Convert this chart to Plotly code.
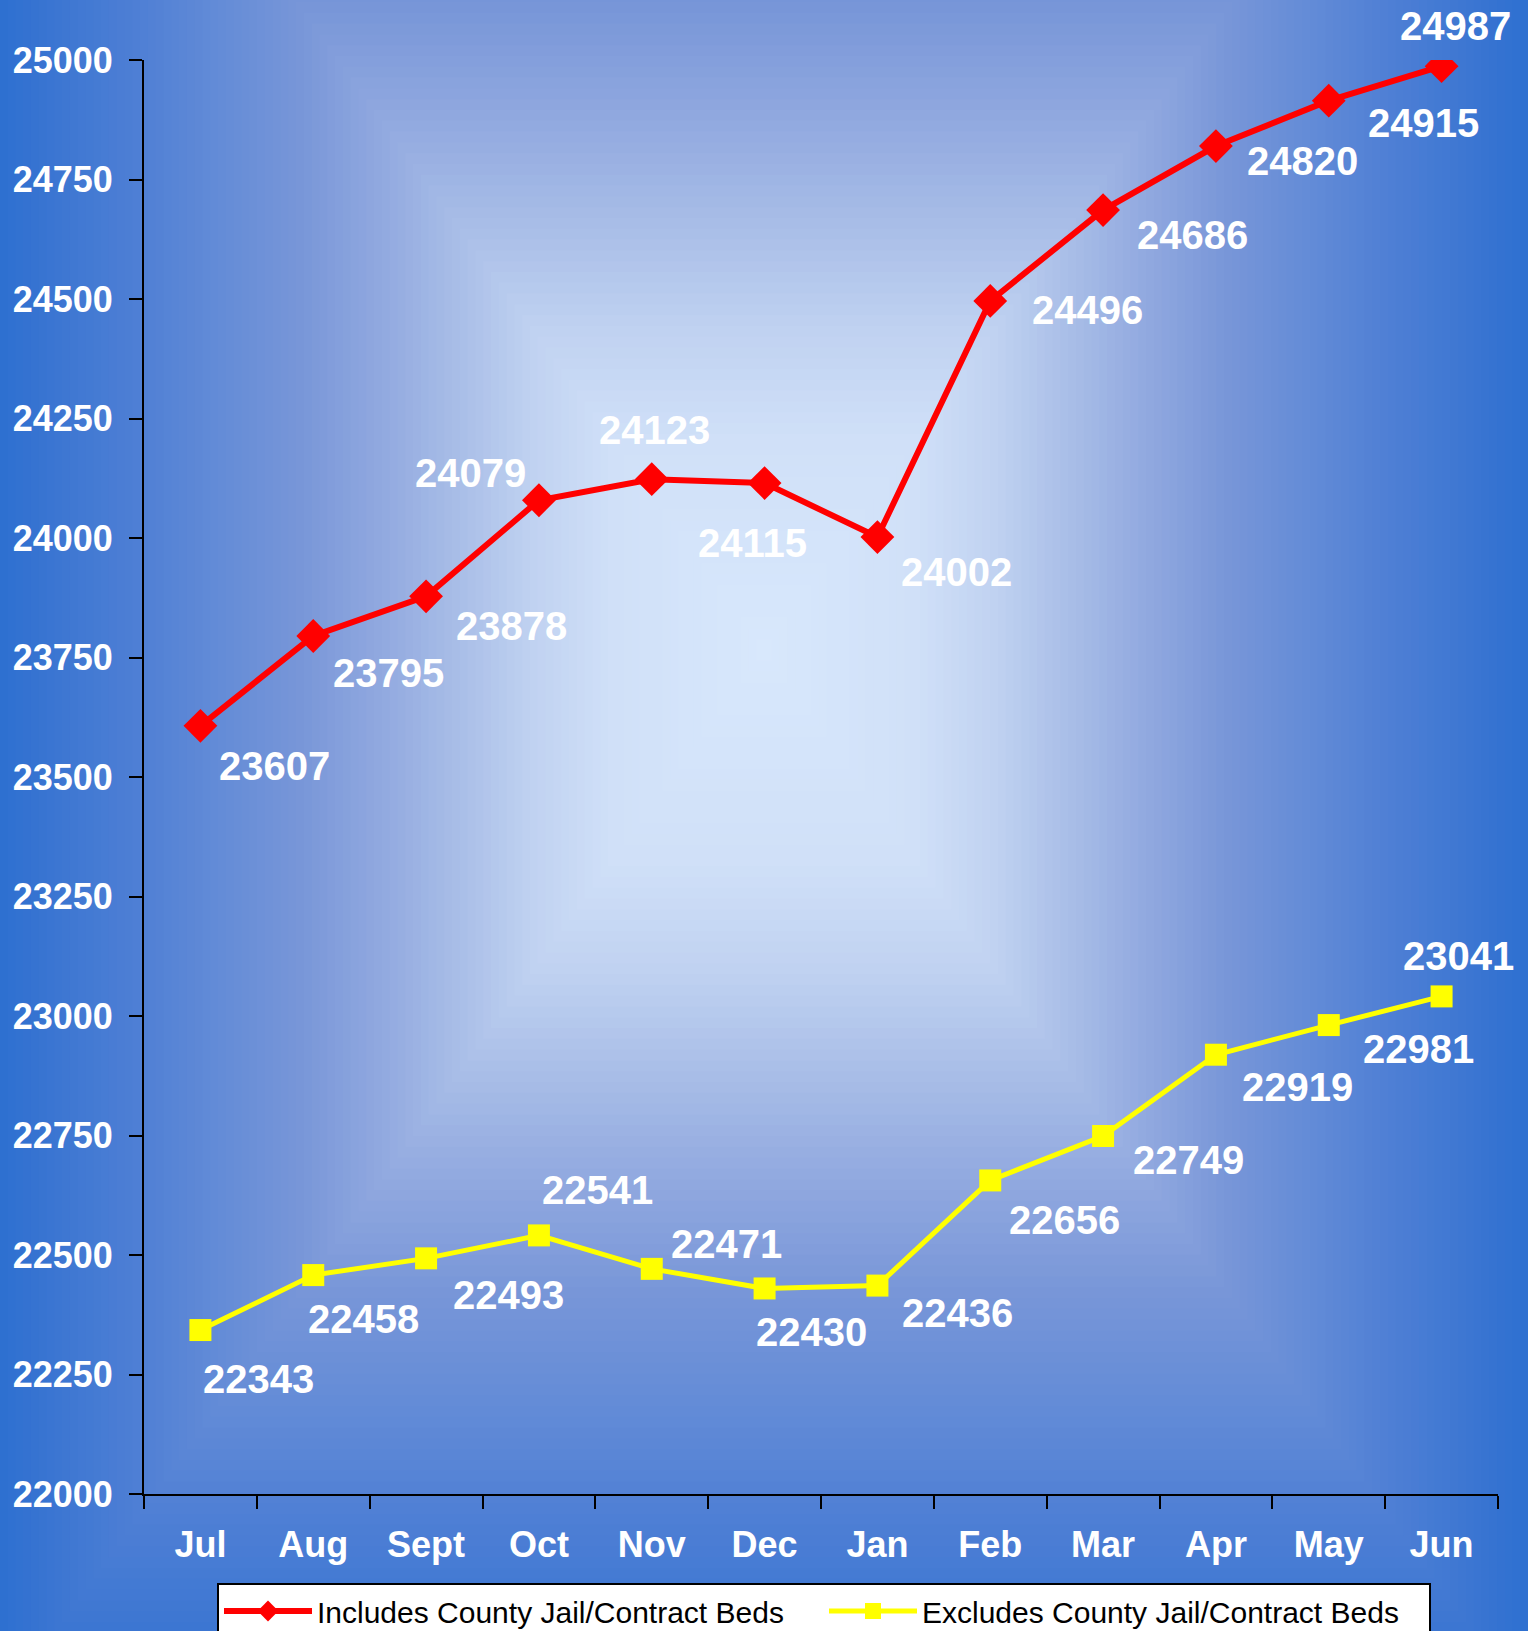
import plotly.graph_objects as go

months = ["Jul", "Aug", "Sept", "Oct", "Nov", "Dec", "Jan", "Feb", "Mar", "Apr", "May", "Jun"]
includes_beds = [23607, 23795, 23878, 24079, 24123, 24115, 24002, 24496, 24686, 24820, 24915, 24987]
excludes_beds = [22343, 22458, 22493, 22541, 22471, 22430, 22436, 22656, 22749, 22919, 22981, 23041]
y_ticks = list(range(22000, 25001, 250))

# label offsets in pixels (dx, dy)
red_offsets = [(74, -40), (75, -37), (85, -30), (-68, 27), (3, 49), (-12, -60),
               (79, -35), (97, -9), (89, -25), (87, -15), (95, -22), (14, 40)]
yel_offsets = [(58, -49), (50, -44), (82, -37), (59, 45), (75, 25), (47, -44),
               (80, -27), (74, -40), (85, -24), (82, -32), (90, -24), (17, 40)]

W, H = 1528, 1631
L, R, T, B = 144, 30, 60, 137
pw, ph = W - L - R, H - T - B

def px2paper(px, py):
    return (px - L) / pw, (H - B - py) / ph

# gradient ramp stops (t, rgb)
stops = [(0.0, (216, 232, 252)), (0.2, (208, 224, 248)), (0.3, (192, 210, 241)),
         (0.4, (168, 189, 231)), (0.5, (144, 168, 223)), (0.6, (120, 150, 216)),
         (0.7, (100, 140, 215)), (0.8, (80, 128, 213)), (0.9, (62, 119, 210)),
         (1.0, (42, 110, 208)), (1.2, (40, 108, 206))]

def ramp(t):
    for (t0, c0), (t1, c1) in zip(stops[:-1], stops[1:]):
        if t <= t1:
            f = (t - t0) / (t1 - t0)
            return "rgb(%d,%d,%d)" % tuple(round(a + (b - a) * f) for a, b in zip(c0, c1))
    return "rgb(%d,%d,%d)" % stops[-1][1]

cx, cy, wx, wy = 764, 650, 780, 1080
shapes = []
n = 110
for i in range(n, -1, -1):
    t = i / 100
    x0, y0 = px2paper(cx - t * wx, cy + t * wy)
    x1, y1 = px2paper(cx + t * wx, cy - t * wy)
    shapes.append(dict(type="rect", xref="paper", yref="paper", x0=x0, x1=x1, y0=y0, y1=y1,
                       fillcolor=ramp(t), line=dict(width=0), layer="below"))

fig = go.Figure()
fig.add_trace(go.Scatter(x=months, y=includes_beds, mode="lines+markers",
                         name="Includes County Jail/Contract Beds",
                         line=dict(color="#ff0000", width=6),
                         marker=dict(symbol="diamond", size=26, color="#ff0000")))
fig.add_trace(go.Scatter(x=months, y=excludes_beds, mode="lines+markers",
                         name="Excludes County Jail/Contract Beds",
                         line=dict(color="#ffff00", width=5),
                         marker=dict(symbol="square", size=22, color="#ffff00")))

annotations = []
for vals, offs in ((includes_beds, red_offsets), (excludes_beds, yel_offsets)):
    for m, v, (dx, dy) in zip(months, vals, offs):
        annotations.append(dict(x=m, y=v, xref="x", yref="y", text=str(v), showarrow=False,
                                xshift=dx, yshift=dy, xanchor="center", yanchor="middle",
                                font=dict(family="Arial", size=40, color="white", weight="bold")))

fig.update_layout(
    width=W, height=H,
    margin=dict(l=L, r=R, t=T, b=B, pad=0, autoexpand=False),
    paper_bgcolor="rgb(42,110,208)",
    plot_bgcolor="rgba(0,0,0,0)",
    shapes=shapes,
    annotations=annotations,
    showlegend=True,
    legend=dict(orientation="h", x=(217 - L) / pw, y=(H - B - 1583) / ph,
                xanchor="left", yanchor="top", bgcolor="white",
                bordercolor="black", borderwidth=2, itemwidth=88,
                font=dict(family="Arial", size=30, color="black"),
                entrywidth=502, entrywidthmode="pixels"),
    xaxis=dict(type="category", range=[-0.5, 11.5], tickson="boundaries", ticks="outside",
               ticklen=13, tickwidth=2, tickcolor="black", showline=True, linecolor="black",
               linewidth=2, showgrid=False, zeroline=False, ticklabelstandoff=18,
               automargin=False,
               tickfont=dict(family="Arial", size=36, color="white", weight="bold")),
    yaxis=dict(range=[22000, 25000], tickvals=y_ticks, tickformat="d", ticks="outside",
               ticklen=13, tickwidth=2, tickcolor="black", showline=True, linecolor="black",
               linewidth=2, showgrid=False, zeroline=False, ticklabelstandoff=9,
               automargin=False,
               tickfont=dict(family="Arial", size=36, color="white", weight="bold")),
)

fig.write_html("out.html", config={"displayModeBar": False},
               post_script="document.body.style.margin='0';document.body.style.overflow='hidden';")
